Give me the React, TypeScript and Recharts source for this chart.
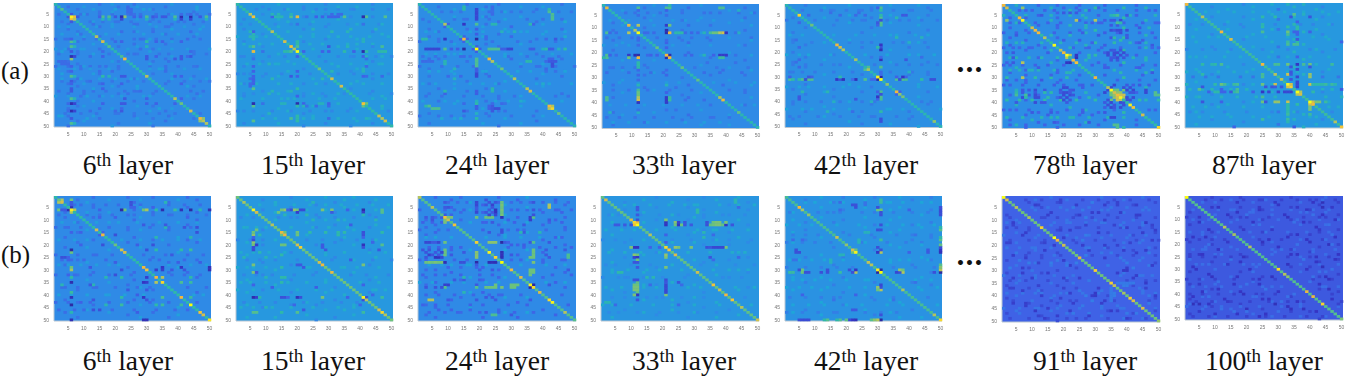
import { CartesianGrid, Scatter, ScatterChart, XAxis, YAxis } from 'recharts';

// [row, columns, level]. Levels run 0 (navy) to 9 (yellow), read by eye. Mirrored across the diagonal.
type Band = [number, number[], number];

const TICKS = [5, 10, 15, 20, 25, 30, 35, 40, 45, 50];

const LEVEL_COLORS = [
  '#27248f', '#3535c4', '#3f62e6', '#2f8ae6', '#1fa5d8',
  '#2fb8a8', '#6cc27c', '#b4c45c', '#f2b93c', '#f7f21c',
];

// faint row and column stripes behind the strong cells
const a6Texture: Band[] = [
  [5, [2, 9, 11, 15, 19, 24, 28, 33, 37, 43, 46, 50], 2.4], [8, [3, 12, 16, 20, 25, 31, 34, 40, 42, 48], 2.5],
  [15, [1, 4, 10, 14, 19, 26, 29, 33, 38, 43, 47], 2.4], [21, [2, 8, 13, 18, 24, 27, 34, 37, 45, 49], 2.5],
  [26, [1, 5, 9, 12, 17, 21, 31, 36, 40, 46], 2.4], [32, [3, 7, 11, 19, 24, 29, 37, 42, 47, 50], 2.5],
  [36, [2, 10, 13, 17, 23, 27, 33, 44, 48], 2.4], [45, [4, 9, 14, 20, 26, 30, 34, 39, 47], 2.5],
  [10, [2, 5, 14, 19, 26, 33, 37, 42, 48], 3.6], [13, [3, 8, 17, 21, 29, 35, 40, 46], 3.7],
  [19, [1, 4, 9, 24, 28, 34, 38, 43, 50], 3.6], [27, [2, 7, 12, 18, 31, 35, 42, 47], 3.6],
  [31, [3, 9, 15, 20, 25, 38, 44, 49], 3.7], [38, [1, 5, 11, 16, 22, 29, 43, 47], 3.6],
];

const a15Texture: Band[] = [
  [3, [7, 11, 16, 22, 26, 29, 33, 38, 44, 49], 2.9], [9, [2, 5, 13, 18, 24, 30, 36, 41, 46], 3], [14, [1, 7, 10, 21, 25, 30, 37, 43, 49], 4.2],
  [17, [3, 8, 12, 24, 28, 36, 39, 44], 4.3], [22, [2, 6, 11, 16, 27, 33, 38, 45, 50], 2.9], [25, [4, 8, 13, 19, 31, 37, 42, 46], 4.2],
  [29, [1, 5, 10, 15, 24, 33, 38, 44, 49], 2.9], [33, [2, 7, 14, 18, 26, 37, 41, 47], 4.3], [37, [3, 6, 11, 22, 28, 35, 43, 50], 3],
  [39, [2, 9, 15, 19, 27, 32, 44, 48], 4.2], [44, [1, 6, 12, 18, 24, 31, 36, 49], 2.9], [47, [9, 13, 22, 25, 30, 33, 38, 43], 4.3],
];

const a24Texture: Band[] = [
  [4, [8, 11, 14, 27, 30, 33, 37, 45, 49], 2.5], [7, [2, 12, 15, 23, 28, 35, 40, 46], 2.4], [12, [3, 6, 17, 21, 29, 35, 41, 47], 3.8], [16, [1, 7, 11, 24, 32, 36, 44], 2.4],
  [21, [3, 6, 10, 14, 28, 33, 38, 43, 49], 3.8], [22, [2, 6, 9, 17, 29, 35, 40, 45], 2.4], [26, [1, 8, 13, 18, 33, 39, 44, 50], 2.4], [28, [4, 7, 11, 22, 32, 36, 47], 3.9],
  [33, [2, 6, 12, 17, 25, 38, 42, 49], 3.8], [38, [3, 8, 15, 21, 26, 31, 44, 48], 2.4], [40, [2, 9, 13, 25, 29, 34, 46], 3.8], [46, [1, 7, 11, 15, 23, 30, 37], 2.4],
];

const a33Texture: Band[] = [
  [4, [8, 11, 15, 19, 26, 33, 38, 44, 49], 2.4], [7, [3, 9, 16, 23, 27, 31, 36, 45], 3.6], [14, [2, 6, 10, 18, 25, 29, 34, 41, 48], 2.4], [17, [1, 5, 9, 23, 28, 35, 44], 3.6],
  [26, [3, 7, 11, 15, 30, 37, 41, 47], 2.5], [28, [2, 9, 16, 20, 33, 38, 45], 2.3], [32, [1, 6, 12, 21, 25, 36, 43, 49], 3.6], [35, [4, 9, 15, 22, 29, 41, 46], 2.4],
  [41, [3, 8, 14, 20, 26, 31, 45, 49], 3.6], [46, [2, 6, 11, 17, 23, 29, 36, 41], 2.4], [48, [4, 9, 15, 21, 27, 33, 38], 3.7],
];

const a42Texture: Band[] = [
  [3, [6, 12, 15, 20, 24, 28, 35, 41, 47], 2.6], [7, [1, 10, 17, 22, 26, 33, 37, 44, 49], 2.6], [13, [2, 6, 16, 23, 29, 36, 42, 46], 3.9], [16, [3, 9, 21, 25, 35, 38, 45], 2.7],
  [21, [1, 5, 8, 15, 26, 33, 40, 43, 48], 4], [25, [3, 7, 12, 18, 29, 36, 44, 49], 2.6], [28, [2, 6, 10, 16, 22, 34, 41, 46], 2.6], [34, [1, 5, 8, 13, 19, 24, 43, 49], 3.9],
  [40, [3, 7, 12, 18, 25, 29, 44, 47], 2.6], [43, [1, 6, 9, 16, 21, 33, 38, 50], 3.9], [46, [2, 5, 11, 18, 24, 29, 36, 41], 2.6],
];

const a78Texture: Band[] = [
  [3, [6, 10, 14, 17, 25, 28, 33, 37, 43, 47], 2], [5, [1, 8, 12, 16, 26, 31, 35, 41, 49], 4.6], [8, [3, 6, 11, 15, 19, 27, 32, 39, 45, 50], 2], [12, [1, 5, 9, 17, 22, 27, 33, 37, 44, 48], 2],
  [16, [2, 7, 13, 19, 24, 30, 36, 41, 46], 4.6], [18, [1, 6, 10, 14, 23, 27, 32, 38, 44, 50], 2.1], [22, [3, 5, 9, 13, 18, 28, 42, 46], 4.7], [25, [1, 7, 11, 15, 20, 29, 33, 38, 45], 2],
  [27, [3, 6, 9, 12, 17, 23, 36, 43, 48], 4.6], [31, [2, 5, 8, 13, 19, 24, 37, 44, 49], 2], [33, [1, 7, 12, 17, 20, 26, 29, 42, 47], 1.9], [39, [2, 6, 10, 14, 19, 24, 30, 44, 50], 5],
  [43, [1, 5, 9, 16, 21, 26, 36, 47], 2], [46, [2, 7, 13, 18, 23, 28, 34, 39], 4.7], [49, [3, 8, 14, 20, 25, 31, 37, 43], 2],
];

const a87Texture: Band[] = [
  [4, [7, 11, 16, 22, 27, 32, 38, 44, 49], 4.2], [9, [2, 6, 13, 18, 29, 37, 41, 47], 2.9], [14, [3, 8, 11, 20, 26, 33, 41, 45], 4.2], [19, [1, 6, 10, 15, 25, 33, 40, 48], 2.9],
  [22, [2, 7, 13, 18, 27, 33, 40, 46], 4.2], [28, [1, 5, 11, 16, 20, 33, 36, 44], 4.3], [30, [3, 7, 11, 18, 22, 36, 44, 49], 2.5], [35, [2, 6, 9, 15, 20, 26, 44, 47], 4.5],
  [38, [1, 5, 12, 17, 23, 29, 45, 50], 4.5], [42, [3, 7, 11, 19, 25, 33, 46, 49], 4.3], [44, [2, 6, 13, 20, 28, 36, 47], 2.9], [46, [5, 9, 15, 22, 27, 33, 40], 4.2],
];

const b6Texture: Band[] = [
  [4, [7, 9, 13, 17, 21, 25, 28, 37, 42, 47], 2.3], [8, [2, 11, 15, 19, 26, 32, 38, 43, 49], 2.4], [11, [3, 7, 14, 21, 27, 34, 40, 46], 3.7], [13, [1, 5, 9, 18, 24, 31, 37, 44], 2.3],
  [18, [2, 7, 11, 22, 28, 35, 40, 47], 3.7], [24, [1, 8, 14, 19, 29, 36, 43, 48], 2.3], [26, [3, 6, 10, 17, 31, 34, 42, 46], 2.2], [28, [2, 5, 9, 14, 21, 37, 44, 49], 3.7],
  [32, [1, 7, 12, 18, 25, 38, 42, 47], 2.3], [37, [3, 8, 14, 20, 27, 31, 43, 49], 2.3], [40, [2, 6, 11, 17, 23, 29, 45, 48], 3.8], [43, [1, 5, 12, 18, 24, 31, 37, 46], 2.2], [46, [2, 7, 10, 19, 26, 33, 39], 2.2],
];

const b15Texture: Band[] = [
  [4, [8, 13, 19, 24, 29, 34, 39, 44, 49], 4.2], [9, [2, 6, 14, 20, 27, 32, 38, 45], 2.9], [13, [3, 7, 10, 18, 25, 30, 36, 43, 49], 4.3], [18, [1, 5, 9, 23, 28, 34, 39, 44], 2.9],
  [23, [2, 6, 11, 16, 29, 35, 43, 48], 4.2], [26, [4, 8, 13, 20, 31, 38, 44, 50], 2.9], [29, [1, 6, 10, 15, 24, 34, 39, 46], 4.2], [32, [3, 7, 12, 19, 25, 37, 42, 49], 2.9],
  [35, [2, 5, 10, 17, 23, 29, 40, 46], 4.3], [38, [1, 6, 14, 20, 26, 31, 44, 48], 4.2], [43, [3, 8, 13, 22, 28, 34, 39], 2.9], [45, [2, 6, 12, 18, 25, 33, 38], 4.3],
];

const b24Texture: Band[] = [
  [3, [10, 13, 16, 30, 33, 36, 40, 44, 48], 2.2], [6, [1, 9, 12, 15, 30, 35, 39, 45, 49], 2.1], [11, [2, 5, 8, 17, 22, 31, 35, 42, 46], 2], [14, [1, 7, 10, 21, 29, 34, 41, 47], 2.2],
  [17, [3, 6, 11, 22, 28, 33, 39, 45], 3.9], [21, [4, 7, 11, 14, 29, 34, 39, 44, 49], 2], [26, [1, 3, 12, 16, 30, 33, 40, 46], 2.1], [28, [4, 8, 11, 16, 22, 33, 41, 47], 3.9],
  [32, [2, 6, 9, 14, 20, 24, 43, 49], 2], [35, [1, 5, 11, 15, 22, 26, 41, 47], 3.9], [40, [3, 7, 12, 18, 23, 27, 33, 46], 2.1], [44, [2, 6, 10, 17, 21, 29, 35, 48], 2], [47, [4, 9, 13, 20, 26, 31, 37], 2.1],
];

const b33Texture: Band[] = [
  [4, [8, 11, 16, 22, 27, 31, 38, 44, 49], 4.2], [8, [3, 6, 13, 19, 25, 33, 39, 46], 3], [14, [2, 7, 11, 18, 24, 31, 36, 42, 47], 4.2], [18, [1, 5, 10, 23, 29, 36, 41, 48], 3],
  [23, [3, 8, 13, 19, 28, 35, 42, 46], 4.3], [28, [2, 5, 10, 16, 32, 37, 43, 49], 3], [30, [4, 9, 15, 19, 26, 36, 41, 47], 4.2], [33, [1, 6, 9, 14, 20, 27, 39, 45], 3],
  [37, [2, 7, 14, 18, 28, 32, 43, 49], 4.2], [41, [4, 8, 15, 20, 26, 33, 46], 3], [44, [1, 5, 10, 17, 23, 30, 38, 48], 4.2], [47, [3, 6, 12, 19, 25, 31, 37], 3],
];

const b42Texture: Band[] = [
  [3, [7, 10, 15, 19, 26, 33, 38, 44, 47], 4], [7, [2, 11, 14, 18, 25, 29, 35, 41, 46], 2.7], [12, [1, 5, 9, 17, 24, 33, 38, 43, 48], 4], [16, [3, 7, 11, 21, 28, 36, 41, 47], 2.7],
  [19, [1, 6, 10, 15, 25, 33, 39, 44], 2.7], [26, [2, 5, 9, 13, 19, 34, 40, 46], 4], [29, [1, 7, 12, 17, 22, 35, 42, 48], 2.7], [34, [3, 6, 10, 15, 20, 27, 42, 47], 4],
  [37, [1, 5, 9, 14, 21, 26, 43, 49], 4], [41, [2, 7, 12, 18, 28, 35, 46], 2.7], [44, [3, 8, 13, 20, 25, 33, 38, 49], 4], [47, [1, 6, 11, 17, 26, 31, 36], 2.7],
];

const b91Texture: Band[] = [
  [2, [8, 13, 21, 26, 31, 36, 41, 47], 1.5], [5, [10, 15, 19, 28, 35, 40, 46], 2.5], [9, [3, 14, 18, 23, 29, 37, 43, 49], 1.5], [11, [2, 6, 17, 22, 27, 33, 39, 45], 2.5],
  [13, [5, 9, 19, 25, 31, 38, 44, 48], 1.5], [16, [1, 7, 12, 21, 28, 35, 41, 46], 2.5], [18, [3, 9, 14, 23, 30, 36, 43, 50], 1.5], [21, [2, 6, 11, 16, 27, 33, 39, 47], 2.5],
  [24, [4, 8, 13, 19, 29, 37, 42, 49], 1.5], [32, [1, 6, 11, 17, 23, 38, 44, 48], 2.5], [34, [3, 8, 15, 21, 28, 40, 46], 1.5], [39, [2, 7, 13, 19, 26, 31, 45, 49], 2.5],
  [42, [4, 10, 16, 22, 29, 36, 47], 1.5], [45, [1, 6, 12, 18, 25, 32, 38, 49], 2.5], [49, [3, 9, 15, 21, 27, 34, 41, 46], 1.5],
];

const b100Texture: Band[] = [
  [2, [7, 12, 19, 24, 31, 36, 42, 48], 1.3], [6, [3, 11, 16, 22, 28, 34, 41, 46], 2.3], [9, [1, 5, 15, 20, 27, 33, 38, 45], 1.3], [10, [3, 8, 17, 24, 30, 36, 43, 49], 2.3],
  [15, [2, 6, 11, 21, 26, 33, 39, 46], 2.3], [18, [1, 5, 9, 13, 24, 31, 37, 44], 1.3], [22, [3, 7, 12, 17, 28, 35, 41, 48], 2.3], [25, [2, 6, 10, 15, 20, 33, 40, 46], 1.3],
  [28, [4, 8, 13, 19, 24, 37, 43, 49], 2.3], [34, [1, 5, 10, 16, 22, 29, 41, 47], 1.3], [37, [3, 7, 12, 18, 25, 31, 44, 49], 2.3], [40, [2, 6, 11, 16, 23, 29, 35, 47], 1.3],
  [43, [4, 9, 15, 21, 27, 33, 38, 50], 1.3], [45, [1, 7, 12, 18, 24, 31, 37, 49], 2.3], [49, [3, 8, 14, 20, 26, 32, 39, 44], 1.3],
];

const a6Cells: Band[] = [
  [2, [2], 5], [3, [3], 5.5], [6, [6], 9], [6, [7], 8], [7, [7], 7], [14, [14], 7], [16, [16], 7.5], [18, [18], 5.5],
  [22, [22], 5.5], [23, [23], 8], [30, [30], 7], [39, [39], 7], [41, [41], 6], [44, [44], 7.5], [47, [47], 8],
  [47, [48], 6.5], [48, [48], 7], [49, [49], 7],
  [6, [16, 18, 30, 39, 49], 5.5], [6, [23], 6.5], [6, [22, 41, 44], 0.6], [6, [5, 8, 20, 32, 35, 36, 47], 1.8],
  [7, [16, 18, 30, 39, 49], 4.6], [7, [22, 41, 44], 1.4], [6, [15, 26, 28], 2],
  [16, [30], 5], [18, [30], 4.6], [16, [22, 35, 41], 2], [22, [30, 41, 44], 1.8], [30, [39, 41], 2], [39, [41], 2],
  [23, [30, 39, 41], 1.8], [33, [6, 16, 22, 41], 2], [24, [2, 3, 4], 2.2], [25, [3, 4, 5], 2.2], [46, [2, 3], 3.9],
  [12, [22, 32, 44], 2.3], [9, [13, 27, 38], 2.4], [28, [15, 19, 36], 2.3], [37, [10, 24, 46], 2.4], [5, [41, 44], 2.2],
  [43, [15, 22], 2.2], [20, [16, 44], 2.2], [3, [20, 29, 46], 3.8], [11, [38, 47], 3.8], [34, [27, 43], 3.8],
];

const a15Cells: Band[] = [
  [5, [5], 7], [6, [6], 8.2], [12, [12], 7], [16, [16], 7.5], [18, [18], 8.2], [19, [19], 7], [20, [20], 9.2], [27, [27], 6],
  [31, [31], 7.5], [34, [34], 7.5], [41, [41], 8.2], [46, [46], 7.2], [47, [47], 7], [48, [48], 7.5],
  [6, [20], 7.8], [6, [18, 35, 42, 48], 5.6], [6, [41], 0.5], [20, [41], 0.5], [20, [16, 17, 18, 35, 46, 47, 48], 5],
  [41, [42], 6], [18, [20], 5.5], [6, [26, 28, 30, 31, 32, 33], 2], [20, [22, 28, 30, 38], 2],
  [6, [13, 14, 15], 4.8], [18, [47], 5.4], [20, [42], 5], [18, [30], 1.8], [6, [12], 2], [31, [12, 28], 4.8],
  [41, [15, 16, 27, 28], 4.6], [41, [22, 30], 2], [5, [12, 14, 18], 4.7], [5, [31, 33, 34], 2.2], [42, [22, 47], 4.6],
  [26, [42], 2.2], [30, [42, 47], 2.2], [23, [6, 42], 2.4], [36, [18, 12], 4.7], [11, [25, 37, 45], 4.6], [9, [41, 20], 2.4],
];

const a24Cells: Band[] = [
  [9, [9], 7], [15, [15], 8], [19, [19], 9.5], [23, [23], 8], [24, [24], 7], [27, [27], 6], [31, [31], 7], [35, [35], 7],
  [36, [36], 7.5], [42, [42], 8], [43, [43], 8.5], [42, [43], 7], [45, [45], 6],
  [19, [15], 0.3], [19, [9], 5.5], [19, [23, 24, 25, 26], 5.5], [19, [5, 6, 7, 11, 13, 18, 20, 27, 28, 36, 37, 42, 43], 1.9],
  [19, [40, 45], 4.5], [19, [3, 4, 5, 6, 7, 29, 30], 1.4], [19, [41, 47], 5], [9, [15], 1], [15, [2, 3], 5],
  [43, [5, 6, 7], 5.5], [43, [23, 24, 25, 26], 1.6], [3, [42], 5], [4, [42], 5.5], [24, [9], 5], [25, [9], 5],
  [24, [35, 36], 5], [44, [15], 1.8], [15, [14, 16], 2], [24, [2, 3, 4, 5], 2.2], [24, [42, 43, 44], 1.8], [23, [42, 43], 2],
  [9, [10, 37], 2], [9, [24, 25], 4.8], [30, [10, 14, 23], 2.2], [4, [23, 24], 2.3], [28, [41, 44], 2.4], [36, [9, 24], 4.9],
  [22, [14, 15], 2.2], [12, [27, 31], 4.6], [41, [24, 15, 27], 2.2], [47, [8, 14], 4.2], [33, [33, 40], 4.3],
];

const a33Cells: Band[] = [
  [2, [2], 7.8], [9, [9], 7.8], [11, [11], 7], [12, [12], 9.5], [18, [18], 5.8], [21, [21], 8], [22, [22], 8], [26, [26], 5.8],
  [31, [31], 5.8], [38, [38], 6.8], [39, [39], 7.8], [44, [44], 5.8], [21, [22], 0.5], [12, [21], 0.5], [12, [22], 8], [12, [9], 7],
  [9, [21], 0.8], [12, [39], 7.5], [12, [40], 0.9], [12, [35, 36, 37, 38], 5.4], [12, [24, 25, 26], 5], [21, [9, 29, 38, 39, 40], 1.1],
  [12, [38], 7], [21, [11], 0.6], [22, [38, 39], 5.2], [2, [12, 21, 22, 38, 39], 5.5], [22, [9], 6], [12, [29], 2],
  [12, [3, 5, 14, 17, 31], 2.2], [21, [3, 5, 16, 18, 36], 2], [29, [12, 21], 2.1], [22, [1], 5], [27, [12, 21], 2.2],
  [39, [27, 33], 2.3], [33, [12, 21], 4.7], [5, [12, 21], 2.3], [15, [12, 21], 2.2], [44, [3, 12], 4.5], [43, [12, 21], 2.4],
  [24, [34, 43], 2.4], [36, [12], 6], [37, [12], 6],
];

const a42Cells: Band[] = [
  [5, [5], 8.5], [17, [17], 8], [18, [18], 7.5], [19, [19], 7], [23, [23], 6.8], [27, [27], 6.8], [30, [30], 9], [31, [31], 9.5],
  [30, [31], 0.3], [33, [33], 6.5], [36, [36], 8], [37, [37], 6.5], [38, [38], 6.2], [48, [48], 6.5], [9, [9], 6],
  [31, [2, 9, 8, 6, 17, 26, 36, 38, 39], 5.5], [31, [7, 23, 18, 37, 48, 47], 1.6], [31, [19], 0.8], [30, [2, 9, 36, 39], 2],
  [31, [3, 5, 44], 5], [31, [28, 29, 22], 2.2], [2, [31], 5.5], [8, [31], 5.6], [17, [31], 1], [23, [31], 0.8],
  [36, [31], 5.5], [38, [30], 1], [39, [31], 5.4], [18, [30], 5], [37, [36], 2], [5, [38], 1.8], [5, [8, 18, 23, 26], 2.2], [39, [5, 23], 1.8],
  [8, [30], 1.8], [4, [15, 24], 2.3], [27, [26], 5.5], [36, [6, 14], 4.8], [14, [44], 4.6], [40, [16, 28], 4.5], [44, [22], 2.3],
];

const a78Cells: Band[] = [
  [1, [1], 8], [2, [2], 7.5], [6, [6], 8], [7, [7], 9], [10, [10], 7.5], [11, [11], 8], [12, [12], 8], [14, [14], 7], [17, [17], 9.2], [19, [19], 7],
  [20, [20], 8], [21, [21], 9.2], [23, [23], 8], [24, [24], 8.2], [30, [30], 8], [34, [34], 7], [35, [35], 9.5], [36, [36], 7.5], [37, [37], 8],
  [38, [38], 9], [41, [41], 9], [42, [42], 8.2], [45, [45], 7.5], [50, [50], 8.5], [2, [7], 6], [7, [24, 30], 7], [7, [2], 6.5], [21, [22], 7], [21, [24], 1], [22, [24], 0.8],
  [35, [36, 37, 39], 6], [36, [37, 38], 6.5], [37, [38, 39], 7.4], [38, [39], 7],
  [35, [34, 40, 42], 1.4], [36, [41, 42], 1.7], [38, [40, 42], 1.5], [39, [40, 41], 1.6], [34, [39, 41], 1.6],
  [21, [34, 36, 38, 40], 1.5], [22, [35, 37, 39], 1.7], [23, [35, 37], 1.7], [20, [34, 36, 39], 1.5],
  [19, [35, 38], 1.7], [11, [35, 36, 38, 40], 1.5], [9, [35, 37], 1.8], [4, [20, 22, 24], 1.8], [2, [20, 24], 2],
  [36, [7, 19, 22, 11], 1.8], [37, [11, 20, 22], 1.5], [38, [7, 12, 21], 1.5], [35, [7, 14, 22], 1.8], [36, [5, 14, 16], 5], [37, [5, 8], 5.4], [38, [8, 15], 5],
  [35, [46], 1.4], [36, [33, 46], 1.4], [40, [5, 14, 21, 33], 1.8], [44, [10, 16, 33], 1.8], [48, [17, 28], 1.8], [30, [2, 11, 16, 21], 5], [36, [49], 5.6], [37, [49, 50], 5.6],
  [15, [20, 25, 45], 1.9], [13, [5, 31, 40], 1.8], [18, [4, 9, 28, 48], 2], [26, [12, 34, 44], 1.9], [29, [8, 16, 45], 2], [10, [27, 47], 4.6], [28, [21, 38], 4.8],
];

const a87Cells: Band[] = [
  [1, [1], 8], [6, [6], 7], [12, [12], 8], [15, [15], 7.5], [25, [25], 8], [29, [29], 7], [31, [31], 7], [33, [33], 9], [34, [34], 8.4], [36, [36], 9.3], [37, [37], 7.5],
  [40, [40], 9.5], [41, [41], 8], [48, [48], 7], [50, [50], 8.2], [33, [34], 7.5], [36, [37], 7], [40, [41], 7.5], [34, [36], 1.3],
  [25, [33, 40], 6], [25, [36], 1], [25, [6, 12, 29, 30, 38], 5.4], [33, [29, 40], 7.4], [33, [12, 25], 6], [36, [33], 1.4],
  [40, [29, 30], 6.6], [34, [29], 1.8], [33, [13, 16, 17], 5.4], [36, [10, 11, 12, 16, 41], 5], [40, [6, 12, 26], 1.7], [34, [6, 26, 28, 31], 1.7], [36, [27, 30, 32], 1.4],
  [12, [35, 36, 40], 2], [15, [36], 1.8], [6, [25, 29], 5], [33, [41, 42, 43, 44], 5], [40, [42, 43], 6.2], [45, [33, 40], 5.2], [47, [33, 25], 5.2], [16, [33], 5.2], [17, [36, 35], 5.4],
  [9, [25, 35], 4.8], [10, [25, 33], 5], [13, [36], 2], [22, [36], 2], [5, [35], 5.6], [8, [36], 2], [50, [35], 1.8], [50, [16], 2], [33, [1], 4.6], [48, [33], 4.8],
];

const b6Cells: Band[] = [
  [2, [2], 6], [3, [3], 7.5], [2, [3], 7], [6, [6], 9], [6, [7], 7], [14, [14], 7.5], [16, [16], 8], [20, [20], 6], [22, [22], 7.5], [23, [23], 7.5],
  [29, [29], 8], [30, [30], 8.2], [33, [33], 8], [35, [35], 8.5], [41, [41], 8], [44, [44], 9.7], [47, [47], 8.2], [48, [48], 7.5], [50, [50], 8.8],
  [6, [29, 30, 2, 23], 6], [6, [22, 35, 41, 44, 50, 5], 0.7], [6, [3, 4, 33, 39], 1.8], [22, [30, 41], 1.6], [22, [6], 0.4], [30, [6], 6.8], [35, [6], 0.6], [35, [33], 7],
  [30, [33, 35], 1.2], [29, [35, 41, 50], 1], [30, [50], 0.6], [41, [6], 0.8], [44, [6], 0.4], [50, [6], 0.7], [50, [29, 30], 0.8], [23, [6], 6], [33, [6], 5], [39, [6], 5.2], [47, [6], 4.8],
  [44, [22, 33, 35, 41], 5.2], [41, [22, 35], 5.5], [22, [33, 41], 5], [25, [3, 4], 1.6], [15, [6, 16], 2], [36, [3, 13], 4.8], [46, [13, 15], 1.6], [5, [25, 26, 32], 2], [20, [32, 16], 1.6],
  [12, [29, 36], 1.8], [38, [24, 30], 1.8], [17, [33, 44], 4.8], [42, [30, 13], 1.7], [33, [44, 22], 5], [27, [20, 40, 47], 1.9], [9, [20, 15, 43], 2],
];

const b15Cells: Band[] = [
  [3, [3], 6.8], [6, [6], 9], [7, [7], 7.5], [12, [12], 7], [15, [15], 7.8], [16, [16], 8], [20, [20], 7.5], [21, [21], 8.4], [28, [28], 8], [31, [31], 7.8],
  [27, [27], 7.5], [41, [41], 9], [42, [42], 7], [46, [46], 7.5], [47, [47], 8.5], [48, [48], 7], [15, [16], 7.5],
  [6, [41, 20], 0.5], [41, [20], 0.8], [6, [16, 20, 19, 47], 6.5], [15, [6, 16, 20, 47], 6], [20, [6, 15, 16, 47], 6], [6, [18, 21, 22, 31], 1.5], [6, [28], 1.5], [41, [7], 1.2], [41, [15, 16, 21, 42], 1.6],
  [41, [47, 28], 5.2], [47, [15, 20, 6, 7], 5.6], [20, [7], 1.2], [28, [6, 41], 6.2], [31, [6], 6.2], [28, [20, 21], 1.8], [33, [16, 15], 5], [41, [8], 4.8], [31, [7], 1.8], [14, [7], 6],
  [15, [24, 29, 35, 47], 5], [22, [29, 46], 1.8], [17, [41, 6], 2], [36, [6, 41], 2], [8, [16, 23], 4.8], [25, [3, 10], 4.7], [37, [12, 26], 1.9], [44, [19, 40], 2.1], [10, [33, 45], 4.7],
];

const b24Cells: Band[] = [
  [1, [1], 7], [5, [5], 7], [9, [9], 8.2], [10, [10], 7.4], [12, [12], 8.2], [19, [19], 8.4], [23, [23], 9], [25, [25], 8.5], [27, [27], 9.7], [30, [30], 8], [33, [33], 7.6],
  [36, [36], 9], [37, [37], 8.6], [39, [39], 7.6], [42, [42], 8.6], [43, [43], 9], [47, [47], 7], [36, [37], 0.3],
  [27, [4, 5, 6, 7, 8], 6.2], [27, [9, 19, 23, 24, 25], 0.7], [27, [15, 14], 1.6], [19, [9, 24], 6], [19, [27], 0.4], [19, [23, 24, 25], 6.4], [19, [5, 6, 28, 29, 36], 1.8], [19, [3, 4, 7], 1.4],
  [9, [10, 11, 24], 6.2], [9, [36], 1], [9, [37], 7], [9, [3, 5, 8], 1.8], [37, [9, 19, 23, 24, 25], 5.6], [36, [30, 31, 32], 6], [37, [27], 6.2], [25, [27], 0.7], [24, [27], 0.8],
  [25, [6, 7], 0.9], [22, [2, 4, 7], 1.7], [23, [3, 6, 15], 1.8], [24, [4, 7, 11], 1.8], [25, [36, 37], 6], [23, [37, 9], 6], [24, [37, 9], 6], [22, [37, 9], 6], [30, [37], 6],
  [31, [37], 6], [4, [24], 1.3], [3, [23, 25], 1.7], [5, [24, 10], 1.7], [8, [23, 25], 1.4], [5, [42], 7], [3, [27], 6], [5, [27], 6], [7, [27], 6], [8, [37], 1.6],
  [42, [4], 7], [42, [10, 19, 25, 36], 1.8], [36, [9, 10], 1.2], [37, [6, 3], 1.7], [20, [30, 34], 1.9], [24, [30, 41], 1.8], [22, [41, 47], 1.8], [29, [10, 19], 2], [48, [24, 25], 5.5],
  [34, [15, 12], 1.8], [15, [39, 33], 4.8], [46, [7, 17], 2], [30, [48], 1.8],
];

const b33Cells: Band[] = [
  [2, [2], 7.6], [10, [10], 7.6], [11, [11], 8.5], [12, [12], 9.4], [16, [16], 7], [21, [21], 8.6], [22, [22], 8.2], [24, [24], 7.6], [31, [31], 7.4], [36, [36], 8.2], [38, [38], 7.2],
  [40, [40], 8], [42, [42], 8.2], [45, [45], 7], [50, [50], 7.4], [11, [12], 8], [12, [21], 1], [21, [11, 12], 0.9], [21, [10, 25, 29, 40], 6.2], [12, [10], 1.6], [24, [11, 12], 6.4], [24, [21], 6.6],
  [25, [11, 12], 1.3], [12, [35, 36, 37, 38, 39], 5.8], [12, [40], 1], [21, [36, 37, 38, 39], 1.4], [12, [24, 26], 6], [12, [25], 1],
  [12, [5, 6, 8, 29], 1.8], [36, [11, 12], 6], [37, [11, 12], 6.2], [38, [11, 12], 6.2], [34, [12, 11, 21], 1.6], [40, [11], 6.2], [27, [11, 12], 1.7], [21, [16, 19], 2], [35, [25, 21], 1.7],
  [43, [2, 3], 4.8], [31, [7, 6], 5], [33, [15, 17], 4.8], [42, [12], 1.7], [36, [16, 26], 2.2], [44, [25, 5], 2.2],
];

const b42Cells: Band[] = [
  [5, [5], 8], [6, [6], 6.8], [8, [8], 6.5], [17, [17], 7.2], [20, [20], 6.5], [22, [22], 7.5], [23, [23], 9], [27, [27], 7.2], [28, [28], 7], [30, [30], 9], [31, [31], 9.6], [30, [31], 0.3],
  [48, [48], 7], [50, [50], 8.5], [38, [38], 6.8], [22, [23], 6], [31, [6, 23, 38], 7], [31, [7, 8, 12, 22, 37, 48], 1.6], [31, [50], 0.3], [30, [50], 7], [23, [50], 0.8], [22, [50], 1],
  [31, [2, 3, 18], 5.2], [23, [30], 1], [21, [30], 1.6], [38, [30], 6], [6, [30, 31], 6], [5, [30, 50], 1.6], [6, [50], 1.6], [4, [22, 23], 1.6], [5, [23], 1.6],
  [50, [6, 7, 8, 21], 1.5], [50, [14, 18, 28], 5.6], [50, [29], 6.4], [13, [50], 5], [20, [50], 5.8], [17, [50], 5], [46, [23, 22], 1.8], [30, [37], 6.5], [31, [36], 1.4],
  [18, [3, 6], 2.2], [26, [3, 4], 2.4], [14, [31, 30], 1.6], [40, [6, 23], 2], [15, [26, 27], 4.6], [24, [18, 19], 4.7], [42, [16, 35], 2.4],
];

const b91Cells: Band[] = [
  [1, [1], 9.4], [2, [2], 7.6], [5, [5], 7], [9, [9], 6.8], [13, [13], 8.4], [17, [17], 9.4], [18, [18], 8], [20, [20], 7.4], [25, [25], 7.8], [30, [30], 8.4], [35, [35], 8.4], [36, [36], 7.2],
  [41, [41], 8.4], [42, [42], 7.6], [45, [45], 7.6], [50, [50], 6.5], [39, [39], 6.8],
  [4, [11, 24, 33, 43], 1.2], [7, [16, 29, 38], 1.2], [12, [4, 27, 36, 48], 1.3], [15, [8, 31, 45], 1.2], [19, [2, 14, 41], 1.3], [22, [28, 39, 46], 1.2], [26, [6, 18, 44], 2.6], [28, [21, 34, 47], 2.6],
  [31, [7, 15, 37], 1.2], [33, [10, 25, 42], 1.2], [37, [4, 20, 46], 1.3], [40, [13, 29, 49], 1.2], [43, [8, 23, 32], 1.2], [46, [11, 35], 1.1], [48, [18, 28], 1.2], [35, [37, 38, 39, 40, 41, 42], 2.6],
  [27, [9, 16, 24, 40], 2.7], [23, [5, 35, 47], 2.6], [10, [21, 30, 42], 2.5], [17, [24, 40], 2.5], [38, [12, 25], 2.6], [44, [19, 37], 2.5], [29, [3, 42], 2.7], [6, [34, 47], 2.5], [8, [25, 44], 1.2], [3, [19, 37], 1.3],
  [30, [40, 39], 1.1], [36, [39, 40], 2.7], [20, [17, 26, 33], 1.2], [14, [22, 49], 1.2], [47, [40, 43], 2.6],
];

const b100Cells: Band[] = [
  [1, [1], 9.6], [13, [13], 7], [16, [16], 6.8], [21, [21], 7], [30, [30], 8.6], [32, [32], 7], [39, [39], 7.8], [41, [41], 7.8], [44, [44], 8.5], [33, [33], 6.4], [50, [50], 6.2],
  [3, [17, 29, 41], 1], [5, [9, 24, 36, 47], 1.1], [8, [14, 32, 44], 1], [11, [5, 22, 38], 1], [14, [19, 28, 43], 1.1], [17, [7, 33, 48], 1], [19, [25, 40], 0.9], [24, [6, 12, 34, 49], 1], [27, [18, 42], 1], [30, [4, 21], 1],
  [33, [9, 28, 45], 0.9], [36, [16, 24, 43], 1], [39, [6, 18, 30], 1], [42, [13, 25, 47], 1], [44, [3, 5, 29], 0.8], [46, [20, 34, 38], 0.9], [48, [10, 26], 1], [12, [24, 46], 2.4], [20, [8, 36, 47], 2.4], [26, [15, 38], 2.5],
  [31, [22, 43], 2.4], [35, [11, 40], 2.4], [7, [21, 39], 2.3], [41, [8, 33], 2.4], [2, [26, 44], 2.3], [47, [16, 30], 2.4], [23, [29, 41], 2.3],
];

function parula(level: number) {
  const low = Math.min(Math.floor(level), 8);
  const t = level - low;
  const a = LEVEL_COLORS[low];
  const b = LEVEL_COLORS[low + 1];
  const mix = (i: number) =>
    Math.round(parseInt(a.slice(i, i + 2), 16) * (1 - t) + parseInt(b.slice(i, i + 2), 16) * t);
  return `rgb(${mix(1)},${mix(3)},${mix(5)})`;
}

// diagonal first, then the listed cells and their mirror image; later entries overwrite
function expand(bands: Band[], diagonal: number) {
  const cells = new Map<string, { x: number; y: number; level: number }>();
  const diagonalHits = bands.filter(([row, cols]) => cols.length === 1 && cols[0] === row);
  const rest = bands.filter((band) => !diagonalHits.includes(band));
  for (const [row, cols, level] of rest) {
    for (const col of cols) {
      cells.set(`${col}-${row}`, { x: col, y: row, level });
      cells.set(`${row}-${col}`, { x: row, y: col, level });
    }
  }
  for (let i = 1; i <= 50; i++) cells.set(`${i}-${i}`, { x: i, y: i, level: diagonal });
  for (const [row, , level] of diagonalHits) cells.set(`${row}-${row}`, { x: row, y: row, level });
  return [...cells.values()];
}

interface PanelProps {
  left: number;
  right: number;
  top: number;
  bottom: number;
  texture: Band[];
  cells: Band[];
  base: number;
  diagonal: number;
}

function Panel({ left, right, top, bottom, texture, cells, base, diagonal }: PanelProps) {
  const plotW = right - left;
  const plotH = bottom - top;
  const cellW = plotW / 50;
  const cellH = plotH / 50;
  const Square = (props: any) => (
    <rect
      x={props.cx - cellW / 2}
      y={props.cy - cellH / 2}
      width={cellW + 0.3}
      height={cellH + 0.3}
      fill={parula(props.payload.level)}
    />
  );
  return (
    <div style={{ position: 'absolute', left: left - 16, top: top - 2, filter: 'blur(0.6px)' }}>
      <ScatterChart
        width={plotW + 22}
        height={plotH + 13}
        margin={{ left: 0, right: 6, top: 2, bottom: 0 }}
      >
        <CartesianGrid horizontal={false} vertical={false} fill={parula(base)} stroke="none" />
        <XAxis
          type="number"
          dataKey="x"
          domain={[0.5, 50.5]}
          ticks={TICKS}
          tick={{ fontSize: 5, fill: '#777', fontFamily: 'Liberation Sans' }}
          tickLine={false}
          tickMargin={-1}
          height={11}
          stroke="#b9c6d2"
          interval={0}
        />
        <YAxis
          type="number"
          dataKey="y"
          reversed
          domain={[0.5, 50.5]}
          ticks={TICKS}
          tick={{ fontSize: 5, fill: '#777', fontFamily: 'Liberation Sans' }}
          tickLine={false}
          tickMargin={-1}
          width={16}
          stroke="#b9c6d2"
          interval={0}
        />
        <Scatter data={expand([...texture, ...cells], diagonal)} shape={Square} isAnimationActive={false} />
      </ScatterChart>
    </div>
  );
}

function Caption({ x, y, n, suffix }: { x: number; y: number; n: string; suffix: string }) {
  return (
    <div
      style={{
        position: 'absolute',
        left: x - 80,
        top: y,
        width: 160,
        textAlign: 'center',
        fontFamily: '"Liberation Serif", serif',
        fontSize: 27.5,
        lineHeight: '30px',
        color: '#111',
        whiteSpace: 'nowrap',
      }}
    >
      {n}
      <sup style={{ fontSize: 19, lineHeight: 0, verticalAlign: 8 }}>{suffix}</sup> layer
    </div>
  );
}

const textStyle = { position: 'absolute', fontFamily: '"Liberation Serif", serif', color: '#111' } as const;
const dotStyle = { ...textStyle, left: 956, fontSize: 14, fontWeight: 700, fontFamily: '"DejaVu Sans"', lineHeight: '16px', letterSpacing: 0 };

export default function App() {
  return (
    <div style={{ position: 'absolute', left: 0, top: 0, width: 1345, height: 376, background: '#fff', overflow: 'hidden' }}>
      <Panel left={54} right={211} top={3} bottom={127} texture={a6Texture} cells={a6Cells} base={3} diagonal={4.8} />
      <Panel left={236} right={393} top={3} bottom={127} texture={a15Texture} cells={a15Cells} base={3.5} diagonal={5} />
      <Panel left={418} right={576} top={3} bottom={127} texture={a24Texture} cells={a24Cells} base={3.1} diagonal={4.8} />
      <Panel left={602} right={759} top={3.5} bottom={128} texture={a33Texture} cells={a33Cells} base={3} diagonal={4.8} />
      <Panel left={785} right={942} top={3.5} bottom={127} texture={a42Texture} cells={a42Cells} base={3.2} diagonal={4.8} />
      <Panel left={1002} right={1160} top={3.5} bottom={128} texture={a78Texture} cells={a78Cells} base={3.1} diagonal={5} />
      <Panel left={1185} right={1343} top={3} bottom={128} texture={a87Texture} cells={a87Cells} base={3.5} diagonal={5.2} />
      <Panel left={54} right={211} top={196} bottom={321} texture={b6Texture} cells={b6Cells} base={3} diagonal={5} />
      <Panel left={236} right={393} top={196} bottom={321} texture={b15Texture} cells={b15Cells} base={3.5} diagonal={6} />
      <Panel left={418} right={576} top={196} bottom={321} texture={b24Texture} cells={b24Cells} base={3} diagonal={5.6} />
      <Panel left={601} right={759} top={196} bottom={321} texture={b33Texture} cells={b33Cells} base={3.4} diagonal={5.8} />
      <Panel left={785} right={942} top={196} bottom={321} texture={b42Texture} cells={b42Cells} base={3.3} diagonal={5.4} />
      <Panel left={1002} right={1160} top={196} bottom={322} texture={b91Texture} cells={b91Cells} base={2} diagonal={6} />
      <Panel left={1185} right={1343} top={196} bottom={320} texture={b100Texture} cells={b100Cells} base={1.8} diagonal={5.6} />

      <div style={{ ...textStyle, left: 1, top: 57, fontSize: 25 }}>(a)</div>
      <div style={{ ...textStyle, left: 1, top: 241, fontSize: 25 }}>(b)</div>
      <div style={{ ...dotStyle, top: 62 }}>•••</div>
      <div style={{ ...dotStyle, top: 255 }}>•••</div>

      <Caption x={128} y={150} n="6" suffix="th" />
      <Caption x={313} y={150} n="15" suffix="th" />
      <Caption x={497} y={150} n="24" suffix="th" />
      <Caption x={684} y={150} n="33" suffix="th" />
      <Caption x={866} y={150} n="42" suffix="th" />
      <Caption x={1085} y={150} n="78" suffix="th" />
      <Caption x={1264} y={150} n="87" suffix="th" />
      <Caption x={128} y={346} n="6" suffix="th" />
      <Caption x={313} y={346} n="15" suffix="th" />
      <Caption x={497} y={346} n="24" suffix="th" />
      <Caption x={684} y={346} n="33" suffix="th" />
      <Caption x={866} y={346} n="42" suffix="th" />
      <Caption x={1085} y={346} n="91" suffix="th" />
      <Caption x={1264} y={346} n="100" suffix="th" />
    </div>
  );
}
